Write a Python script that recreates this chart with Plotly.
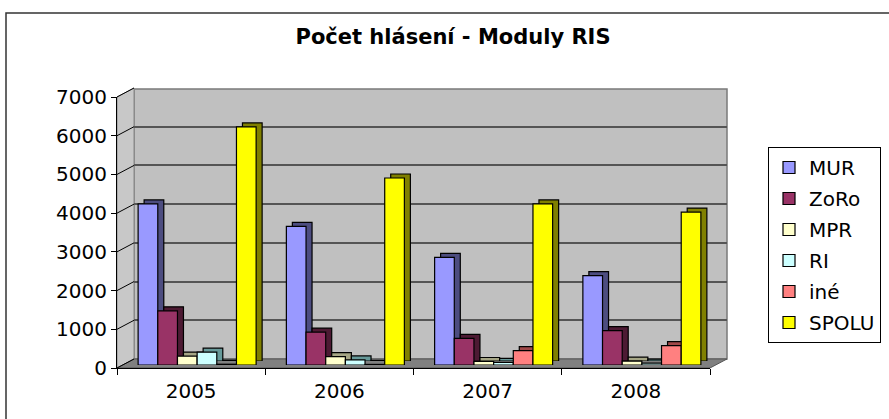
import plotly.graph_objects as go

# ---------------- data ----------------
years = ["2005", "2006", "2007", "2008"]
series_names = ["MUR", "ZoRo", "MPR", "RI", "iné", "SPOLU"]
mur = [4160, 3580, 2780, 2310]
zoro = [1400, 850, 690, 890]
mpr = [230, 215, 90, 100]
ri = [330, 130, 70, 50]
ine = [20, 15, 370, 500]
spolu = [6150, 4830, 4160, 3950]
y_ticks = [0, 1000, 2000, 3000, 4000, 5000, 6000, 7000]
title_text = "Počet hlásení - Moduly RIS"

series_values = [mur, zoro, mpr, ri, ine, spolu]
front_colors = ["#9999FF", "#993366", "#FFFFCC", "#CCFFFF", "#FF8080", "#FFFF00"]
side_colors = ["#4D4D80", "#4D1A33", "#A6A685", "#669999", "#A04848", "#808000"]

# ---------------- geometry helpers (pixel -> paper) ----------------
W, H = 889, 419
def px(x):
    return x / W
def py(y):
    return 1 - y / H

FONT = "DejaVu Sans, Liberation Sans, Arial, sans-serif"
YMAX = 7000

# front plane of the 3D box
FX0, FX1, FY0, FYT = 117, 710, 368, 97
# depth offset of back wall
DX, DY = 17, 9
# bar offsets (bars sit in the middle of the depth)
BDX, BDY = 6, 3
# bar side thickness
SDX, SDY = 6, 4

fig = go.Figure()

# subplot 1: back wall gridlines (dummy trace)
fig.add_trace(go.Scatter(x=years, y=[None] * 4, xaxis="x", yaxis="y",
                         showlegend=False, hoverinfo="skip", mode="markers"))

# subplot 2: bar "side/top" faces (shadow)
for name, vals, col in zip(series_names, series_values, side_colors):
    fig.add_trace(go.Bar(x=years, y=vals, name=name, xaxis="x2", yaxis="y2",
                         marker=dict(color=col, line=dict(color="black", width=1.2)),
                         showlegend=False, hoverinfo="skip"))

# subplot 3: bar front faces
for name, vals, col in zip(series_names, series_values, front_colors):
    fig.add_trace(go.Bar(x=years, y=vals, name=name, xaxis="x3", yaxis="y3",
                         legendgroup=name,
                         marker=dict(color=col, line=dict(color="black", width=1.2))))

# subplot 4: front axes with labels (dummy trace)
fig.add_trace(go.Scatter(x=years, y=[None] * 4, xaxis="x4", yaxis="y4",
                         showlegend=False, hoverinfo="skip", mode="markers"))

hidden = dict(showline=False, showticklabels=False, ticks="", showgrid=False,
              zeroline=False, automargin=False, fixedrange=True)

def ydom(bottom_px, top_px):
    return [py(bottom_px), py(top_px)]

layout = dict(
    width=W, height=H,
    margin=dict(l=0, r=0, t=0, b=0),
    template="none",
    paper_bgcolor="white",
    plot_bgcolor="rgba(0,0,0,0)",
    barmode="group", bargap=0.204, bargroupgap=0,
    font=dict(family=FONT, size=20, color="black"),
    title=dict(text="<b>" + title_text + "</b>", x=px(453), y=py(37),
               xanchor="center", yanchor="middle",
               font=dict(family=FONT, size=21, color="black")),
    # back wall grid
    xaxis=dict(domain=[px(FX0 + DX), px(FX1 + DX)], anchor="y", type="category",
               categoryarray=years, range=[-0.5, 3.5], **hidden),
    yaxis=dict(domain=ydom(FY0 - DY, FY0 - DY - (FY0 - FYT)), anchor="x",
               range=[0, YMAX], tickvals=y_ticks, showgrid=True,
               gridcolor="#555555", gridwidth=1.5, showline=False,
               showticklabels=False, ticks="", zeroline=False,
               automargin=False, fixedrange=True),
    # shadows
    xaxis2=dict(domain=[px(FX0 + BDX + SDX), px(FX1 + BDX + SDX)], anchor="y2",
                type="category", categoryarray=years, range=[-0.5, 3.5], **hidden),
    yaxis2=dict(domain=ydom(FY0 - BDY - SDY, FYT - BDY - SDY), anchor="x2",
                range=[0, YMAX], **hidden),
    # fronts
    xaxis3=dict(domain=[px(FX0 + BDX), px(FX1 + BDX)], anchor="y3",
                type="category", categoryarray=years, range=[-0.5, 3.5], **hidden),
    yaxis3=dict(domain=ydom(FY0 - BDY, FYT - BDY), anchor="x3",
                range=[0, YMAX], **hidden),
    # front axes
    xaxis4=dict(domain=[px(FX0), px(FX1)], anchor="y4", type="category",
                categoryarray=years, range=[-0.5, 3.5], showline=True,
                linecolor="black", linewidth=1, ticks="outside", tickson="boundaries",
                ticklen=6, tickcolor="black", showgrid=False, zeroline=False,
                automargin=False, fixedrange=True, ticklabelstandoff=5,
                tickfont=dict(family=FONT, size=20, color="black")),
    yaxis4=dict(domain=ydom(FY0, FYT), anchor="x4", range=[0, YMAX],
                tickvals=y_ticks, showline=True, linecolor="black", linewidth=1,
                ticks="outside", ticklen=5, tickcolor="black", showgrid=False,
                zeroline=False, automargin=False, fixedrange=True,
                tickfont=dict(family=FONT, size=20, color="black")),
    legend=dict(x=px(768), y=py(147), xanchor="left", yanchor="top",
                bgcolor="white", bordercolor="black", borderwidth=1,
                font=dict(family=FONT, size=20, color="black"),
                traceorder="grouped", tracegroupgap=2, itemwidth=30),
    showlegend=True,
)
fig.update_layout(**layout)

# ---------------- 3D walls (decoration) ----------------
shapes = []
# outer chart border
shapes.append(dict(type="rect", xref="paper", yref="paper",
                   x0=px(6), y0=py(13), x1=px(900), y1=py(430),
                   line=dict(color="#333333", width=1.5), fillcolor="rgba(0,0,0,0)",
                   layer="below"))
# back wall
shapes.append(dict(type="rect", xref="paper", yref="paper",
                   x0=px(FX0 + DX), y0=py(FY0 - DY), x1=px(FX1 + DX), y1=py(FYT - DY + 1),
                   fillcolor="#C0C0C0", line=dict(color="#7A7A7A", width=1.5),
                   layer="below"))
# left side wall
def path(pts):
    return "M " + " L ".join(f"{px(a):.5f},{py(b):.5f}" for a, b in pts) + " Z"
shapes.append(dict(type="path", xref="paper", yref="paper",
                   path=path([(FX0, FYT), (FX0 + DX, FYT - DY), (FX0 + DX, FY0 - DY), (FX0, FY0)]),
                   fillcolor="#C8C8C8", line=dict(color="#8A8A8A", width=1), layer="below"))
# floor
shapes.append(dict(type="path", xref="paper", yref="paper",
                   path=path([(FX0, FY0), (FX0 + DX, FY0 - DY), (FX1 + DX, FY0 - DY), (FX1, FY0)]),
                   fillcolor="#808080", line=dict(color="#555555", width=1), layer="below"))
# diagonal tick connectors on side wall
for v in y_ticks:
    yf = FY0 - v / YMAX * (FY0 - FYT)
    yb = yf - DY
    shapes.append(dict(type="line", xref="paper", yref="paper",
                       x0=px(FX0), y0=py(yf), x1=px(FX0 + DX), y1=py(yb),
                       line=dict(color="black", width=1), layer="below"))
fig.update_layout(shapes=shapes)

fig.write_html("out.html",
               config={"displayModeBar": False},
               post_script="document.body.style.margin='0';document.body.style.padding='0';")
